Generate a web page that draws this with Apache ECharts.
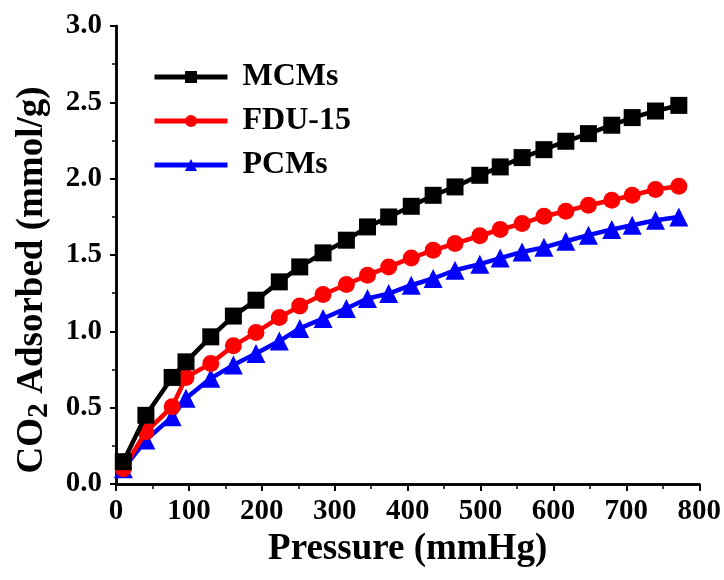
<!DOCTYPE html>
<html><head><meta charset="utf-8">
<script src="https://cdn.jsdelivr.net/npm/echarts@6/dist/echarts.min.js"></script>
<style>html,body{margin:0;padding:0;background:#fff}#c{width:724px;height:580px}</style>
</head><body><div id="c"></div>
<script>
const pressure = [10, 41, 77, 96, 130, 161, 192, 224, 252, 284, 316, 345, 374, 405, 435, 465, 499, 527, 557, 587, 617, 648, 680, 708, 740, 772];
const mcms  = [0.146, 0.45, 0.698, 0.80, 0.964, 1.10, 1.204, 1.324, 1.422, 1.514, 1.597, 1.684, 1.749, 1.819, 1.891, 1.946, 2.022, 2.077, 2.138, 2.19, 2.245, 2.295, 2.35, 2.40, 2.443, 2.48];
const fdu15 = [0.10, 0.342, 0.506, 0.698, 0.79, 0.905, 0.993, 1.09, 1.166, 1.241, 1.307, 1.368, 1.422, 1.481, 1.531, 1.575, 1.626, 1.667, 1.706, 1.754, 1.787, 1.826, 1.859, 1.891, 1.929, 1.95];
const pcms  = [0.10, 0.288, 0.44, 0.561, 0.692, 0.779, 0.855, 0.936, 1.019, 1.084, 1.15, 1.215, 1.247, 1.302, 1.346, 1.40, 1.44, 1.48, 1.52, 1.55, 1.59, 1.63, 1.667, 1.695, 1.728, 1.749];
const seriesNames = ['MCMs', 'FDU-15', 'PCMs'];
const colors = ['#000000', '#ff0000', '#0000ff'];
const symbols = ['rect', 'circle', 'triangle'];

const font = '"Liberation Serif", "Times New Roman", serif';
const zip = (ys) => pressure.map((p, i) => [p, ys[i]]);
const dataSets = [mcms, fdu15, pcms];

const chart = echarts.init(document.getElementById('c'), null, {renderer: 'canvas'});
const axisLine = {show: true, lineStyle: {color: '#000', width: 2.5}};
chart.setOption({
  animation: false,
  backgroundColor: '#fff',
  grid: {left: 116, right: 21, top: 26, bottom: 96},
  legend: {
    orient: 'vertical', left: 147, top: 56,
    itemWidth: 73, itemHeight: 15, itemGap: 12,
    lineStyle: {width: 5},
    textStyle: {fontFamily: font, fontWeight: 'bold', fontSize: 32, color: '#000', padding: [0, 0, 0, 10]},
    data: seriesNames
  },
  xAxis: [{
    type: 'value', min: 0, max: 800, interval: 100,
    position: 'bottom',
    name: 'Pressure (mmHg)', nameLocation: 'middle', nameGap: 46,
    nameTextStyle: {fontFamily: font, fontWeight: 'bold', fontSize: 37, color: '#000'},
    axisLine: axisLine,
    axisTick: {show: true, inside: false, length: 7, lineStyle: {width: 2, color: '#000'}},
    minorTick: {show: true, splitNumber: 2, length: 5, lineStyle: {width: 1.5, color: '#000'}},
    axisLabel: {fontFamily: font, fontWeight: 'bold', fontSize: 29, color: '#000', margin: 13},
    splitLine: {show: false}
  }, {
    type: 'value', min: 0, max: 800, interval: 100, position: 'top',
    axisLine: axisLine, axisTick: {show: false}, axisLabel: {show: false}, splitLine: {show: false}
  }],
  yAxis: [{
    type: 'value', min: 0, max: 3, interval: 0.5,
    name: 'CO{sub|2} Adsorbed (mmol/g)', nameLocation: 'middle', nameGap: 62, nameRotate: 90,
    nameTextStyle: {fontFamily: font, fontWeight: 'bold', fontSize: 37, color: '#000', padding: [0, 50, 0, 0],
      rich: {sub: {fontFamily: font, fontWeight: 'bold', fontSize: 30, color: '#000', verticalAlign: 'bottom', padding: [14, 0, 0, 0]}}},
    axisLine: axisLine,
    axisTick: {show: true, inside: false, length: 6, lineStyle: {width: 2, color: '#000'}},
    minorTick: {show: true, splitNumber: 2, length: 4, lineStyle: {width: 1.5, color: '#000'}},
    axisLabel: {fontFamily: font, fontWeight: 'bold', fontSize: 29, color: '#000', margin: 14,
      formatter: v => v.toFixed(1)},
    splitLine: {show: false}
  }, {
    type: 'value', min: 0, max: 3, interval: 0.5, position: 'right',
    axisLine: axisLine,
    axisTick: {show: true, inside: true, length: 5, lineStyle: {width: 1.5, color: '#000'}},
    minorTick: {show: true, splitNumber: 2, length: 4, lineStyle: {width: 1.5, color: '#000'}},
    axisLabel: {show: false}, splitLine: {show: false}
  }],
  series: seriesNames.map((n, i) => ({
    name: n, type: 'line', data: zip(dataSets[i]),
    symbol: symbols[i], symbolSize: i === 0 ? 17 : (i === 1 ? 17 : 19),
    showAllSymbol: true,
    lineStyle: {color: colors[i], width: 4.5},
    itemStyle: {color: colors[i], borderWidth: 0},
    z: 3 - i
  }))
});
</script></body></html>
